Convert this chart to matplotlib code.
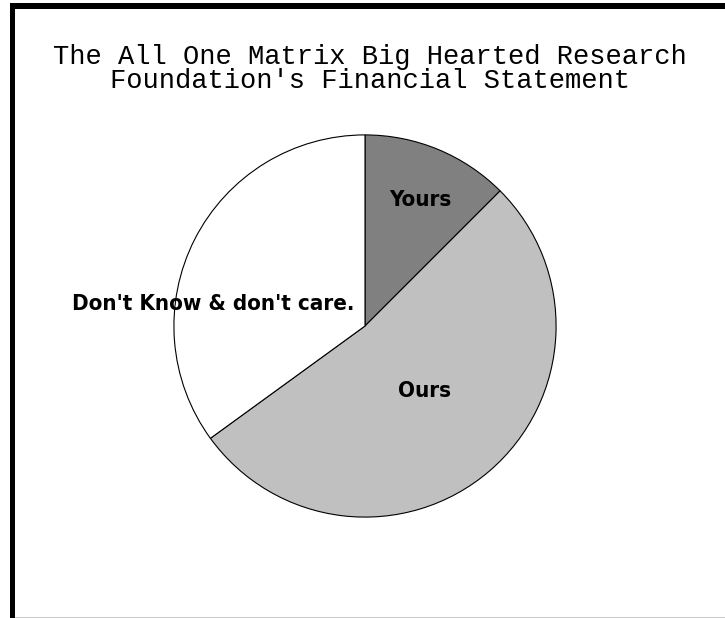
import matplotlib.pyplot as plt
from matplotlib.patches import Rectangle
from matplotlib import font_manager

# slices, clockwise from 12 o'clock
labels = ["Yours", "Ours", "Don't Know & don't care."]
shares = [12.5, 52.5, 35.0]
colors = ["#808080", "#c0c0c0", "#ffffff"]

title = "The All One Matrix Big Hearted Research\nFoundation's Financial Statement"

W, H = 725, 618
fig = plt.figure(figsize=(W / 100, H / 100), dpi=100)
fig.patch.set_facecolor("white")

# frame on the left and top edges
fig.patches.append(Rectangle((10 / W, 0), 5 / W, (H - 3) / H, transform=fig.transFigure,
                             facecolor="black", edgecolor="none"))
fig.patches.append(Rectangle((10 / W, (H - 9) / H), (W - 10) / W, 6 / H, transform=fig.transFigure,
                             facecolor="black", edgecolor="none"))
fig.patches.append(Rectangle((15 / W, 0), (W - 15) / W, 1.5 / H, transform=fig.transFigure,
                             facecolor="#c8c8c8", edgecolor="none"))

fig.text(370 / W, 1 - 69 / H, title, ha="center", va="center", fontsize=19.5,
         family="Liberation Mono", linespacing=0.93)

cx, cy, r = 365, 326, 193
ax = fig.add_axes([(cx - r) / W, (H - cy - r) / H, 2 * r / W, 2 * r / H])
ax.pie(shares, colors=colors, startangle=90, counterclock=False,
       wedgeprops=dict(edgecolor="black", linewidth=0.8))
ax.set_xlim(-1.01, 1.01)
ax.set_ylim(-1.01, 1.01)
ax.set_aspect("equal")
ax.axis("off")

# narrow bold face if there is one, else plain Liberation Sans a bit smaller
cond = font_manager.FontProperties(family="DejaVu Sans", stretch="condensed", weight="bold")
if "Condensed" in font_manager.findfont(cond, fallback_to_default=False):
    lab_font = dict(family="DejaVu Sans", fontstretch="condensed", fontsize=16)
else:
    lab_font = dict(family="Liberation Sans", fontsize=15.5)

label_pos = [(0.29, 0.66), (0.31, -0.34), (-0.795, 0.115)]
for lab, (x, y) in zip(labels, label_pos):
    ax.text(x, y, lab, ha="center", va="center", fontweight="bold",
            clip_on=False, **lab_font)

fig.savefig("out.png", dpi=100)
